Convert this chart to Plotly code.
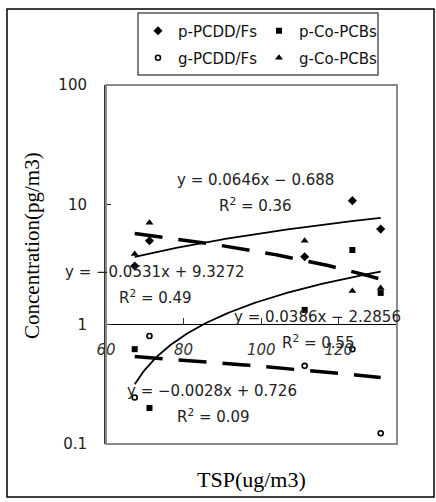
import numpy as np
import plotly.graph_objects as go

# ---- data ----
tsp = [67.4, 71.2, 111.2, 123.5, 130.8]
p_pcdd = [3.07, 4.99, 3.67, 10.8, 6.25]
p_copcb = [0.62, 0.20, 1.32, 4.18, 1.83]
g_pcdd = [0.245, 0.80, 0.45, 0.62, 0.123]
g_copcb = [3.87, 7.06, 4.99, 1.90, 2.01]

series_names = ["p-PCDD/Fs", "p-Co-PCBs", "g-PCDD/Fs", "g-Co-PCBs"]
# trendline coefficients (slope, intercept) and R^2 as printed on the chart
trend_slope = [0.0646, 0.0386, -0.0028, -0.0531]
trend_icpt = [-0.688, -2.2856, 0.726, 9.3272]
trend_r2 = ["0.36", "0.55", "0.09", "0.49"]
eq_text = ["y = 0.0646x \u2212 0.688", "y = 0.0386x \u2212 2.2856",
           "y = \u22120.0028x + 0.726", "y = \u22120.0531x + 9.3272"]

x_ticks = [60, 80, 100, 120]
y_ticks = [0.1, 1, 10, 100]
y_ticktext = ["0.1", "1", "10", "100"]

# ---- layout geometry (pixels) ----
W, H = 436, 502
L, R, T, B = 106, 39, 85, 58
PW, PH = W - L - R, H - T - B


def px(x):
    return (x - L) / PW


def py(y):
    return (H - B - y) / PH


fig = go.Figure()

values = [p_pcdd, p_copcb, g_pcdd, g_copcb]
symbols = ["diamond", "square", "circle-open", "triangle-up"]
sizes = [7, 6, 5, 7]
legends = ["legend", "legend", "legend2", "legend2"]
line_styles = ["solid", "solid", "28px,16px", "28px,16px"]
line_widths = [1.8, 1.8, 3.5, 3.5]

# trendlines
xs = np.linspace(min(tsp), max(tsp), 120)
for i in range(4):
    fig.add_trace(go.Scatter(
        x=xs, y=trend_slope[i] * xs + trend_icpt[i], mode="lines",
        line=dict(color="black", width=line_widths[i], dash=line_styles[i]),
        showlegend=False, hoverinfo="skip"))

for i in range(4):
    fig.add_trace(go.Scatter(
        x=tsp, y=values[i], mode="markers", name=series_names[i],
        legend=legends[i],
        marker=dict(symbol=symbols[i], size=sizes[i], color="black",
                    line=dict(color="black", width=1.6 if i == 2 else 0))))

# equation annotations (pixel centres)
eq_pos = [(256, 180, 256, 205), (317, 317, 318, 342),
          (212, 391, 213, 416), (155, 272, 155, 297)]
font_ann = dict(family="DejaVu Sans", size=15, color="#222")
for i in range(4):
    x1, y1, x2, y2 = eq_pos[i]
    fig.add_annotation(x=px(x1), y=py(y1), xref="paper", yref="paper",
                       text=eq_text[i], showarrow=False, font=font_ann,
                       xanchor="center", yanchor="middle")
    fig.add_annotation(x=px(x2), y=py(y2), xref="paper", yref="paper",
                       text="R<sup>2</sup> = " + trend_r2[i], showarrow=False,
                       font=font_ann, xanchor="center", yanchor="middle")

# axis titles
fig.add_annotation(x=px(32), y=py(246), xref="paper", yref="paper",
                   text="Concentration(pg/m3)", textangle=-90, showarrow=False,
                   font=dict(family="Liberation Serif", size=21, color="black"),
                   xanchor="center", yanchor="middle")
fig.add_annotation(x=px(251), y=py(479), xref="paper", yref="paper",
                   text="TSP(ug/m3)", showarrow=False,
                   font=dict(family="Liberation Serif", size=22, color="black"),
                   xanchor="center", yanchor="middle")

# frames
fig.add_shape(type="rect", xref="paper", yref="paper", x0=0, x1=1, y0=0, y1=1,
              line=dict(color="#8a8a8a", width=2), layer="above")
fig.add_shape(type="rect", xref="paper", yref="paper",
              x0=px(7), x1=px(434), y0=py(497), y1=py(9),
              line=dict(color="black", width=1.5))
fig.add_shape(type="rect", xref="paper", yref="paper",
              x0=px(138), x1=px(378), y0=py(75), y1=py(13),
              line=dict(color="#555", width=1.5))

leg_common = dict(orientation="h", xanchor="left", yanchor="middle",
                  bgcolor="rgba(0,0,0,0)", borderwidth=0,
                  font=dict(family="DejaVu Sans", size=15, color="#111"),
                  itemwidth=30, entrywidth=76, entrywidthmode="pixels",
                  itemclick=False, itemdoubleclick=False)

fig.update_layout(
    width=W, height=H, margin=dict(l=L, r=R, t=T, b=B),
    paper_bgcolor="white", plot_bgcolor="white",
    showlegend=True,
    legend=dict(x=px(138), y=py(31), **leg_common),
    legend2=dict(x=px(138), y=py(58), **leg_common),
    xaxis=dict(range=[60, 135], tickvals=x_ticks, ticks="inside", ticklen=6,
               tickcolor="#333", showline=True, linecolor="black", linewidth=1,
               anchor="free", position=1 / 3, showgrid=False, zeroline=False,
               ticklabelstandoff=12,
               tickfont=dict(family="DejaVu Sans", size=15, color="#333",
                             style="italic")),
    yaxis=dict(type="log", range=[-1, 2], tickvals=y_ticks, ticktext=y_ticktext,
               ticks="inside", ticklen=5, tickcolor="#333", showline=True,
               linecolor="#333", linewidth=2, showgrid=False, zeroline=False,
               ticklabelstandoff=14,
               tickfont=dict(family="DejaVu Sans", size=15, color="#222")),
)

fig.write_html("out.html")
